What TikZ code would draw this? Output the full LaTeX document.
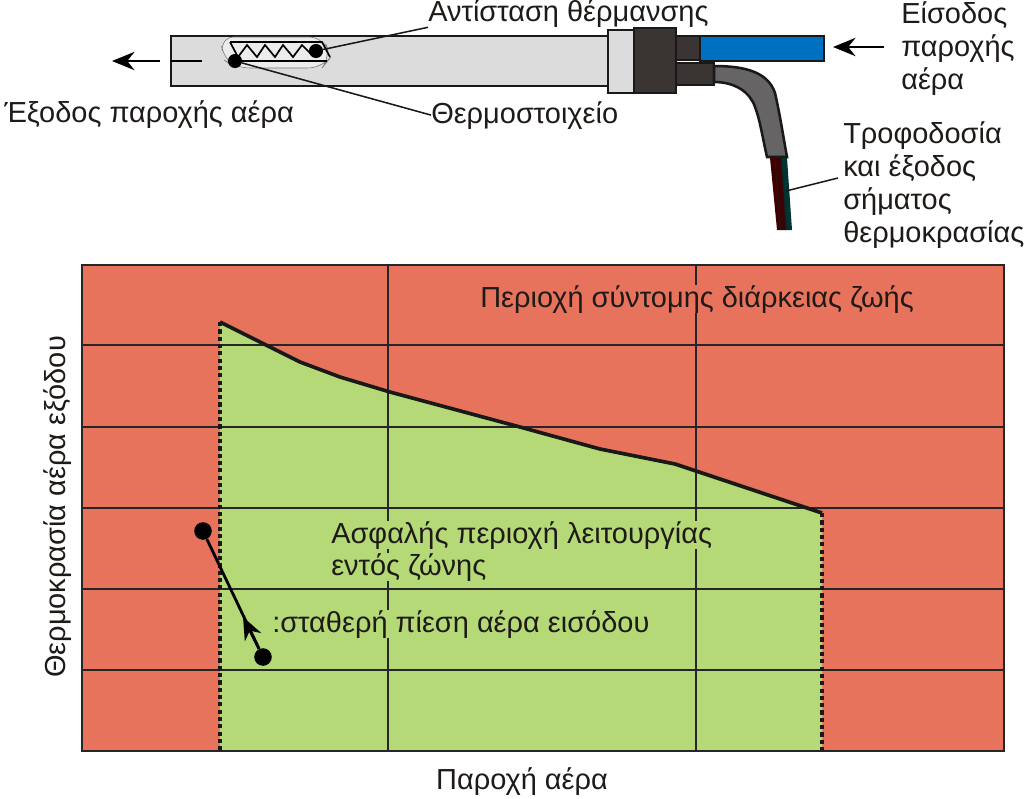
\documentclass[tikz,border=0pt]{standalone}
\usepackage{fontspec}
\setmainfont{Liberation Sans}
\usepackage{xcolor}
\usetikzlibrary{arrows.meta,calc,positioning}
\definecolor{zonered}{HTML}{E8735C}
\definecolor{zonegreen}{HTML}{B5D977}
\definecolor{tubegray}{HTML}{DCDCDC}
\definecolor{plugdark}{HTML}{3A3533}
\definecolor{hoseblue}{HTML}{0070C0}
\definecolor{cablegray}{HTML}{666464}
\definecolor{inktext}{HTML}{1E1A18}
\tikzset{
  lbl/.style={font=\fontsize{20.6}{23.6}\selectfont, text=inktext, inner sep=0pt, align=left},
  dot/.style={circle, fill=black, inner sep=0pt, minimum size=#1},
  leader/.style={line width=1.1pt, black!90},
  flow/.style={-{Stealth[length=16pt,width=13pt]}, line width=1.9pt},
  grid line/.style={line width=1.5pt, black!85},
  edge dash/.style={line width=2.4pt, black!90, dash pattern=on 3pt off 2.2pt},
  part/.style={draw=black!90, line width=1.8pt}
}
\begin{document}
\begin{tikzpicture}[x=0.025cm,y=-0.025cm]
\useasboundingbox (0,0) rectangle (1024,798);

% sensor body
\draw[part, fill=tubegray] (171,36) rectangle (610,86);
\draw[fill=tubegray!55!white, draw=black!55, line width=0.4pt, rounded corners=10pt] (220,37) -- (323,37) -- (331,57) -- (322,68) -- (236,68) -- (224,60) -- cycle;
\draw[part, fill=plugdark] (676,36) rectangle (702,60);
\draw[part, fill=plugdark] (676,63) rectangle (714,85);
\draw[part, fill=hoseblue] (700,36) rectangle (824,61);
\draw[part, fill=cablegray] (714,66) .. controls (745,66) and (768,72) .. (775,93) .. controls (780,115) and (783,135) .. (787,157) -- (767,157) .. controls (762,135) and (760,120) .. (755,107) .. controls (750,92) and (735,82) .. (714,82) -- cycle;
\draw[part, fill=tubegray] (608,30) rectangle (634,93);
\draw[part, fill=plugdark] (634,28) rectangle (676,93);

% wires
\fill[black!75!red] (770,158) -- (781,158) -- (786,230) -- (777,230) -- cycle;
\fill[black!60!teal] (781,158) -- (787,158) -- (792,230) -- (786,230) -- cycle;
\draw[black!90, line width=0.7pt] (775,158) -- (781,230);
\draw[black!90, line width=0.7pt] (781,158) -- (786,230);

% heater
\node[dot=10pt] (heatdot) at (316,51) {};
\node[dot=10pt] (thermdot) at (235,61) {};
\draw[line width=1.2pt] (230,42) -- (322,42) -- (330,57);
\draw[line width=1.2pt] (thermdot) -- (327,61);
\draw[line width=1.2pt] (230,42) -- (238,57) -- (247,45) -- (257,57) -- (265,45) -- (275,57) -- (283,45) -- (293,57) -- (302,45) -- (312,55);

\coordinate (stub) at (171,61);
\coordinate (stubend) at (202,61);
\coordinate (outS) at (160,61);
\coordinate (outE) at (112,61);
\coordinate (inS) at (884,47);
\coordinate (inE) at (833,47);
\draw[line width=1.8pt] (stub) -- (stubend);
\draw[flow] (outS) -- (outE);
\draw[flow] (inS) -- (inE);

% labels on top
\node[lbl, anchor=base west] (heatlbl) at (428,21) {Αντίσταση θέρμανσης};
\node[lbl, anchor=base west] (thermlbl) at (431,123) {Θερμοστοιχείο};
\node[lbl, anchor=base west] (outlbl) at (4,122) {Έξοδος παροχής αέρα};
\node[lbl, anchor=north west] (inlbl) at (901,1) {Είσοδος\\παροχής\\αέρα};
\node[lbl, anchor=north west] (powerlbl) at (843,121) {Τροφοδοσία\\και έξοδος\\σήματος\\θερμοκρασίας};

\coordinate (wirept) at (786,191);
\coordinate (powerend) at (838,178);
\draw[leader] (heatdot) -- (heatlbl.south west);
\draw[leader] (thermdot) -- (thermlbl.west);
\draw[leader] (wirept) -- (powerend);

% chart
\fill[zonered] (82,265) rectangle (1004,751);
\fill[zonegreen] (220,322) -- (300,362) -- (340,377) -- (390,392) -- (520,427) -- (600,449) -- (675,464) -- (822,513) -- (822,751) -- (220,751) -- cycle;
\foreach \yy in {345,427,508,589,670}
  \draw[grid line] (82,\yy) -- (1004,\yy);
\foreach \xx in {388,696}
  \draw[grid line] (\xx,265) -- (\xx,751);
\draw[edge dash] (220,322) -- (220,751);
\draw[edge dash] (822,513) -- (822,751);
\draw[line width=2.6pt, black!90] (220,322) -- (300,362) -- (340,377) -- (390,392) -- (520,427) -- (600,449) -- (675,464) -- (822,513);
\draw[line width=2pt, black!85] (82,265) rectangle (1004,751);

% operating line
\node[dot=12.5pt] (opA) at (203,531) {};
\node[dot=12.5pt] (opB) at (263,657) {};
\coordinate (opmid) at (243,617);
\draw[line width=2pt] (opA) -- (opB);
\draw[flow] (opB) -- (opmid);

\node[lbl, fill=zonered, anchor=base west] (shortlbl) at (480,307) {Περιοχή σύντομης διάρκειας ζωής};
\node[lbl, fill=zonegreen, anchor=base west] (safelbl) at (331,543) {Ασφαλής περιοχή λειτουργίας};
\node[lbl, fill=zonegreen, below=2.6pt of safelbl.south west, anchor=north west] (zonelbl) {εντός ζώνης};
\node[lbl, fill=zonegreen, anchor=base west] (pressurelbl) at (272,632) {:σταθερή πίεση αέρα εισόδου};
\node[lbl, rotate=90] (ylbl) at (58,507) {Θερμοκρασία αέρα εξόδου};
\node[lbl] (xlbl) at (522,782) {Παροχή αέρα};
\end{tikzpicture}
\end{document}
